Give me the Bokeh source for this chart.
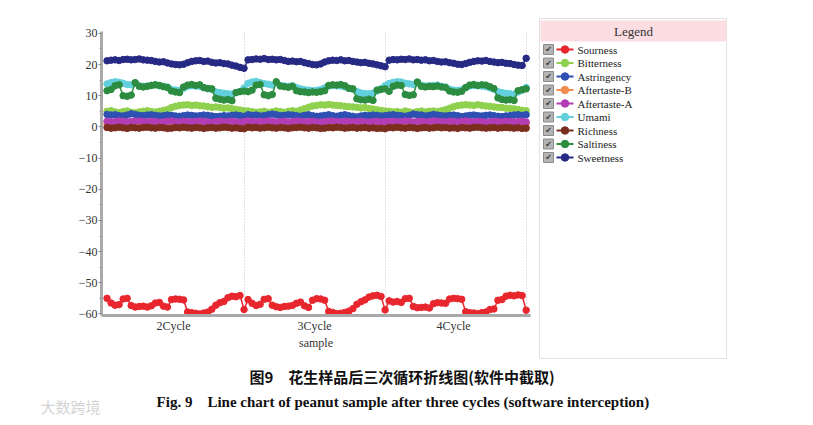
from bokeh.plotting import figure
from bokeh.models import FixedTicker, Range1d
from bokeh.layouts import column, row
from bokeh.embed import file_html
from bokeh.resources import INLINE
from bokeh.core.properties import value

# ---------------- data ----------------
series_names = ["Sourness", "Bitterness", "Astringency", "Aftertaste-B", "Aftertaste-A",
                "Umami", "Richness", "Saltiness", "Sweetness"]
series_colors = ["#e8262e", "#8fd14f", "#2d50b2", "#f28c4e", "#b23db4",
                 "#62d0dc", "#7a2e1e", "#2c8c40", "#262a84"]
cycle_labels = ["2Cycle", "3Cycle", "4Cycle"]
cycle_label_pos = [16.5, 51.5, 86.0]
cycle_bounds = [34, 69, 104]
y_ticks = [30, 20, 10, 0, -10, -20, -30, -40, -50, -60]
y_tick_labels = ["30", "20", "10", "0", "\u221210", "\u221220", "\u221230", "\u221240", "\u221250", "\u221260"]
y_minor = [25, 15, 5, -5, -15, -25, -35, -45, -55]

sourness = [
    -55.0, -56.5, -57.2, -57.0, -55.2, -55.0, -57.3, -57.8, -57.6, -57.5, -57.8, -57.4, -56.5, -56.3, -57.5, -57.8, -55.4, -55.2, -55.3, -55.5, -59.4, -59.6, -59.8, -60.0, -59.7, -59.4, -58.5, -57.2, -56.4, -56.0, -54.8, -54.3, -54.5, -54.1, -58.6,
    -55.4, -56.6, -57.3, -56.9, -55.3, -55.1, -57.2, -57.7, -57.9, -57.6, -57.5, -57.3, -56.6, -56.2, -57.4, -57.9, -55.6, -55.1, -55.2, -55.6, -59.2, -59.5, -59.9, -59.8, -59.5, -59.1, -58.3, -56.9, -56.1, -55.5, -54.6, -54.2, -54.0, -54.4, -58.7,
    -55.8, -56.2, -56.0, -56.3, -55.1, -55.0, -57.6, -58.0, -57.9, -57.8, -58.1, -56.7, -56.4, -56.5, -56.6, -55.2, -55.0, -55.1, -55.3, -59.3, -59.6, -59.7, -59.9, -59.6, -59.4, -58.6, -58.4, -55.6, -55.4, -54.3, -54.0, -54.2, -53.9, -54.1, -58.8,
]
bitterness = [
    5.0, 5.2, 4.8, 4.6, 4.9, 5.1, 4.7, 4.5, 4.8, 5.0, 5.2, 4.9, 4.8, 5.0, 5.3, 5.6, 6.2, 6.6, 6.9, 7.0, 7.1, 6.9, 7.0, 6.8, 6.7, 6.5, 6.3, 6.4, 6.2, 6.0, 6.1, 5.8, 5.6, 5.4, 5.2,
    5.1, 4.9, 4.7, 4.8, 5.0, 4.6, 4.8, 5.1, 4.9, 4.7, 5.0, 5.2, 5.0, 5.4, 5.8, 6.3, 6.7, 6.9, 7.1, 7.0, 7.2, 7.0, 6.9, 6.8, 6.6, 6.5, 6.4, 6.3, 6.1, 6.2, 5.9, 5.7, 5.5, 5.3, 5.1,
    5.0, 4.8, 4.9, 4.7, 5.1, 4.8, 4.6, 4.9, 5.1, 4.8, 5.0, 5.1, 4.9, 5.2, 5.5, 6.0, 6.5, 6.8, 7.0, 7.1, 7.0, 6.9, 7.1, 6.9, 6.7, 6.6, 6.4, 6.3, 6.2, 6.0, 5.9, 5.8, 5.6, 5.3, 5.2,
]
astringency = [
    4.0, 3.8, 3.9, 3.6, 3.5, 3.8, 4.2, 4.0, 3.7, 3.6, 3.8, 3.9, 3.7, 3.5, 3.6, 3.8, 3.7, 3.5, 3.4, 3.6, 3.8, 3.7, 3.5, 3.6, 3.8, 3.7, 3.5, 3.3, 3.4, 3.6, 3.5, 3.7, 3.8, 3.6, 3.4,
    3.9, 3.7, 3.8, 3.5, 3.6, 3.9, 4.1, 3.9, 3.6, 3.7, 3.9, 3.8, 3.6, 3.4, 3.7, 3.9, 3.6, 3.4, 3.5, 3.7, 3.9, 3.6, 3.4, 3.7, 3.9, 3.6, 3.4, 3.2, 3.5, 3.7, 3.6, 3.8, 3.7, 3.5, 3.6,
    3.8, 3.9, 3.7, 3.6, 3.4, 3.7, 4.1, 3.9, 3.8, 3.5, 3.7, 4.0, 3.8, 3.6, 3.5, 3.7, 3.8, 3.6, 3.3, 3.5, 3.7, 3.8, 3.6, 3.5, 3.7, 3.8, 3.6, 3.4, 3.3, 3.5, 3.6, 3.8, 3.9, 3.7, 3.9,
]
aftertaste_b = [
    0.9, 0.8, 1.0, 0.9, 0.7, 0.8, 1.0, 0.9, 0.8, 0.7, 0.9, 1.0, 0.8, 0.7, 0.8, 0.9, 1.0, 0.8, 0.7, 0.9, 0.8, 0.7, 0.9, 1.0, 0.8, 0.7, 0.6, 0.8, 0.9, 0.7, 0.8, 0.9, 0.7, 0.6, 0.8,
    0.8, 0.9, 0.7, 0.8, 1.0, 0.9, 0.7, 0.8, 0.9, 1.0, 0.8, 0.7, 0.9, 0.8, 0.7, 0.9, 0.8, 1.0, 0.9, 0.7, 0.8, 0.9, 0.7, 0.8, 1.0, 0.9, 0.7, 0.8, 0.9, 0.8, 0.7, 0.9, 0.8, 0.7, 0.9,
    0.9, 0.7, 0.8, 1.0, 0.8, 0.7, 0.9, 0.8, 1.0, 0.8, 0.7, 0.8, 0.9, 0.8, 0.7, 0.9, 1.0, 0.8, 0.7, 0.8, 0.9, 0.8, 0.7, 0.9, 0.8, 0.7, 0.8, 0.9, 0.7, 0.8, 0.9, 0.8, 0.7, 0.8, 0.9,
]
aftertaste_a = [
    1.8, 1.6, 1.7, 1.9, 1.8, 1.6, 1.7, 1.8, 1.9, 1.7, 1.6, 1.8, 1.7, 1.5, 1.6, 1.8, 1.9, 1.7, 1.6, 1.8, 1.7, 1.6, 1.8, 1.9, 1.7, 1.6, 1.5, 1.7, 1.8, 1.6, 1.7, 1.8, 1.6, 1.5, 1.7,
    1.9, 1.7, 1.6, 1.8, 1.7, 1.9, 1.8, 1.6, 1.7, 1.8, 1.6, 1.7, 1.9, 1.8, 1.6, 1.7, 1.8, 1.6, 1.5, 1.7, 1.8, 1.9, 1.7, 1.6, 1.8, 1.7, 1.6, 1.7, 1.8, 1.6, 1.5, 1.7, 1.8, 1.6, 1.7,
    1.7, 1.8, 1.6, 1.7, 1.9, 1.8, 1.6, 1.7, 1.8, 1.6, 1.7, 1.9, 1.8, 1.7, 1.6, 1.8, 1.7, 1.6, 1.8, 1.9, 1.7, 1.6, 1.8, 1.7, 1.5, 1.6, 1.8, 1.7, 1.6, 1.8, 1.7, 1.6, 1.7, 1.8, 1.6,
]
umami = [
    13.8, 14.2, 14.5, 14.3, 14.0, 13.6, 13.5, 14.0, 13.2, 13.0, 13.1, 13.3, 13.5, 13.2, 13.0, 12.8, 12.0, 11.8, 11.7, 12.4, 13.0, 13.2, 13.1, 13.0, 12.6, 12.3, 12.0, 11.2, 11.0, 10.8, 10.6, 10.5, 11.0, 11.4, 12.5,
    14.0, 14.4, 14.6, 14.2, 13.9, 13.7, 13.4, 14.1, 13.3, 13.1, 13.0, 13.2, 12.6, 12.2, 11.9, 11.8, 11.6, 11.7, 12.0, 12.5, 13.1, 13.3, 13.2, 13.1, 12.8, 12.4, 12.1, 11.3, 10.9, 10.7, 10.6, 10.8, 11.5, 12.3, 13.2,
    13.9, 14.3, 14.5, 14.4, 14.0, 13.8, 13.6, 14.1, 13.4, 13.1, 13.2, 13.3, 13.4, 13.0, 12.8, 12.1, 11.8, 11.7, 11.9, 12.6, 13.1, 13.3, 13.2, 13.1, 12.9, 12.5, 12.1, 11.3, 11.0, 10.8, 10.6, 10.5, 11.2, 11.8, 12.6,
]
richness = [
    -0.2, -0.4, -0.3, -0.1, -0.3, -0.5, -0.2, -0.3, -0.4, -0.2, -0.1, -0.3, -0.4, -0.2, -0.3, -0.5, -0.4, -0.2, -0.3, -0.1, -0.3, -0.4, -0.2, -0.3, -0.5, -0.3, -0.2, -0.4, -0.3, -0.1, -0.2, -0.4, -0.3, -0.5, -0.6,
    -0.1, -0.3, -0.2, -0.4, -0.3, -0.1, -0.3, -0.4, -0.2, -0.3, -0.5, -0.3, -0.2, -0.1, -0.3, -0.4, -0.2, -0.3, -0.5, -0.4, -0.2, -0.3, -0.1, -0.2, -0.4, -0.3, -0.2, -0.4, -0.3, -0.2, -0.4, -0.3, -0.5, -0.4, -0.6,
    -0.2, -0.3, -0.1, -0.3, -0.4, -0.2, -0.3, -0.5, -0.3, -0.2, -0.4, -0.3, -0.1, -0.3, -0.2, -0.4, -0.3, -0.5, -0.2, -0.3, -0.4, -0.2, -0.1, -0.3, -0.4, -0.3, -0.2, -0.4, -0.3, -0.2, -0.3, -0.4, -0.3, -0.5, -0.4,
]
saltiness = [
    11.6, 12.0, 13.2, 13.5, 10.0, 9.8, 10.2, 14.2, 13.0, 12.8, 13.0, 13.3, 13.5, 13.3, 12.9, 12.6, 11.5, 11.2, 11.0, 12.8, 13.4, 13.6, 13.3, 13.5, 12.6, 12.3, 12.2, 9.2, 8.9, 8.6, 8.8, 8.4, 11.0, 11.3, 11.5,
    11.3, 11.8, 13.4, 13.6, 10.3, 10.0, 10.4, 14.5, 13.1, 12.9, 12.7, 13.0, 11.6, 11.3, 11.2, 11.0, 11.2, 11.1, 11.3, 11.6, 13.3, 13.5, 13.4, 13.6, 13.2, 12.4, 12.2, 9.0, 8.7, 8.6, 8.9, 8.5, 11.8, 12.0, 12.2,
    11.4, 13.0, 13.4, 13.3, 10.4, 10.1, 10.3, 14.4, 13.0, 12.8, 13.0, 12.9, 13.1, 12.8, 12.6, 11.5, 11.2, 11.1, 11.4, 12.6, 13.4, 13.6, 13.3, 13.5, 13.4, 12.9, 12.3, 9.3, 8.8, 8.6, 8.7, 8.5, 11.6, 11.9, 12.2,
]
sweetness = [
    21.2, 21.4, 21.5, 21.3, 21.6, 21.7, 21.5, 21.6, 21.8, 21.5, 21.4, 21.3, 21.0, 20.8, 20.9, 20.5, 20.2, 20.0, 19.9, 20.1, 20.6, 21.0, 21.2, 21.3, 21.0, 21.1, 20.7, 20.5, 20.6, 20.3, 20.2, 19.8, 19.5, 19.1, 18.8,
    21.5, 21.6, 21.8, 21.7, 21.9, 21.6, 21.7, 21.5, 21.6, 21.3, 21.0, 21.1, 20.9, 21.0, 20.6, 20.3, 20.0, 19.9, 20.2, 20.8, 21.2, 21.4, 21.3, 21.5, 21.2, 21.3, 21.0, 20.8, 20.6, 20.7, 20.4, 20.2, 19.9, 19.6, 19.3,
    21.4, 21.6, 21.5, 21.7, 21.6, 21.8, 21.5, 21.6, 21.4, 21.5, 21.2, 21.3, 21.0, 20.8, 20.9, 20.6, 20.4, 20.1, 20.0, 20.3, 20.7, 21.0, 21.2, 21.1, 21.3, 21.0, 20.8, 20.6, 20.7, 20.4, 20.3, 20.0, 19.8, 19.7, 22.0,
]
series_values = [sourness, bitterness, astringency, aftertaste_b, aftertaste_a,
                 umami, richness, saltiness, sweetness]
sample = list(range(len(sourness)))

caption_cn = "图9\u3000花生样品后三次循环折线图(软件中截取)"
caption_en = "Fig. 9\u2003Line chart of peanut sample after three cycles (software interception)"
watermark = "大数跨境"

SERIF = "Liberation Serif"

# ---------------- main chart ----------------
p = figure(width=539, height=365, x_range=Range1d(-1.37, 105.08), y_range=Range1d(-60.5, 30.6),
           output_backend="svg", toolbar_location=None,
           min_border_left=101, min_border_right=9, min_border_top=31, min_border_bottom=50)
p.frame_align = False
p.outline_line_color = None
p.background_fill_color = "white"
p.border_fill_color = "white"

p.yaxis.ticker = FixedTicker(ticks=y_ticks, minor_ticks=y_minor)
p.yaxis.major_label_overrides = dict(zip(y_ticks, y_tick_labels))
p.yaxis.axis_line_color = "#a9a9a9"
p.yaxis.axis_line_width = 3
p.yaxis.major_tick_line_color = "#8a8a8a"
p.yaxis.major_tick_out = 3
p.yaxis.major_tick_in = 0
p.yaxis.minor_tick_line_color = "#9a9a9a"
p.yaxis.minor_tick_out = 2
p.yaxis.minor_tick_in = 0
p.yaxis.major_label_text_font = SERIF
p.yaxis.major_label_text_font_size = "12px"
p.yaxis.major_label_text_color = "#333333"
p.yaxis.major_label_standoff = 1

p.xaxis.ticker = FixedTicker(ticks=cycle_label_pos)
p.xaxis.major_label_overrides = dict(zip(cycle_label_pos, cycle_labels))
p.xaxis.axis_line_color = "#a9a9a9"
p.xaxis.axis_line_width = 3
p.xaxis.major_tick_line_color = None
p.xaxis.major_tick_out = 0
p.xaxis.major_tick_in = 0
p.xaxis.minor_tick_line_color = None
p.xaxis.minor_tick_out = 0
p.xaxis.major_label_text_font = SERIF
p.xaxis.major_label_text_font_size = "12px"
p.xaxis.major_label_text_color = "#333333"
p.xaxis.major_label_standoff = 3
p.xaxis.axis_label = "sample"
p.xaxis.axis_label_text_font = SERIF
p.xaxis.axis_label_text_font_size = "12px"
p.xaxis.axis_label_text_font_style = "normal"
p.xaxis.axis_label_text_color = "#333333"
p.xaxis.axis_label_standoff = 0

p.xgrid.ticker = FixedTicker(ticks=cycle_bounds)
p.xgrid.grid_line_color = "#c4c4c4"
p.xgrid.grid_line_dash = "1 2"
p.ygrid.grid_line_color = None

for name, color, vals in zip(series_names, series_colors, series_values):
    p.line(sample, vals, line_color=color, line_width=1.5)
    p.scatter(sample, vals, size=6.5, fill_color=color, line_color=color)

# ---------------- legend panel ----------------
lg = figure(width=188, height=365, x_range=Range1d(0, 188), y_range=Range1d(340, 0),
            output_backend="svg", toolbar_location=None,
            x_axis_location=None, y_axis_location=None,
            min_border_left=0, min_border_right=0, min_border_top=18, min_border_bottom=7)
lg.frame_align = False
lg.grid.visible = False
lg.outline_line_color = "#e2e2e2"
lg.background_fill_color = "white"
lg.border_fill_color = "white"

lg.quad(left=[1], right=[187], top=[2], bottom=[23], fill_color="#fbdde2", line_color=None)
lg.text(x=[94], y=[12.5], text=["Legend"], text_font=value(SERIF), text_font_size="13px",
        text_align="center", text_baseline="middle", text_color="#333333")

item_y = [31 + 13.5 * k for k in range(len(series_names))]
n = len(series_names)
lg.rect(x=[9] * n, y=item_y, width=10, height=10, fill_color="#b4b4b4", line_color="#8a8a8a")
lg.text(x=[9] * n, y=item_y, text=["\u2714"] * n, text_font=value("DejaVu Sans"), text_font_size="8px",
        text_align="center", text_baseline="middle", text_color="#3a3a3a")
lg.segment(x0=[17] * n, x1=[34] * n, y0=item_y, y1=item_y, line_color=series_colors, line_width=2)
lg.scatter(x=[25.5] * n, y=item_y, size=7.5, fill_color=series_colors, line_color=series_colors)
lg.text(x=[38] * n, y=item_y, text=series_names, text_font=value(SERIF), text_font_size="11px",
        text_align="left", text_baseline="middle", text_color="#222222")

# ---------------- captions ----------------
cap = figure(width=805, height=52, x_range=Range1d(0, 805), y_range=Range1d(52, 0),
             output_backend="svg", toolbar_location=None,
             x_axis_location=None, y_axis_location=None,
             min_border_left=0, min_border_right=0, min_border_top=0, min_border_bottom=0)
cap.frame_align = False
cap.grid.visible = False
cap.outline_line_color = None
cap.background_fill_color = "white"
cap.border_fill_color = "white"
cap.text(x=[401.5], y=[11], text=[caption_cn], text_font=value("Noto Sans CJK SC"),
         text_font_size="15px", text_font_style="bold", text_align="center",
         text_baseline="middle", text_color="#111111")
cap.text(x=[402.5], y=[36], text=[caption_en], text_font=value(SERIF),
         text_font_size="15px", text_font_style="bold", text_align="center",
         text_baseline="middle", text_color="#111111")
cap.text(x=[40], y=[41], text=[watermark], text_font=value("Noto Sans CJK SC"),
         text_font_size="15px", text_align="left", text_baseline="middle", text_color="#d4d4d4")

layout = column(row(p, lg), cap)
open("out.html", "w").write(file_html(layout, INLINE))
